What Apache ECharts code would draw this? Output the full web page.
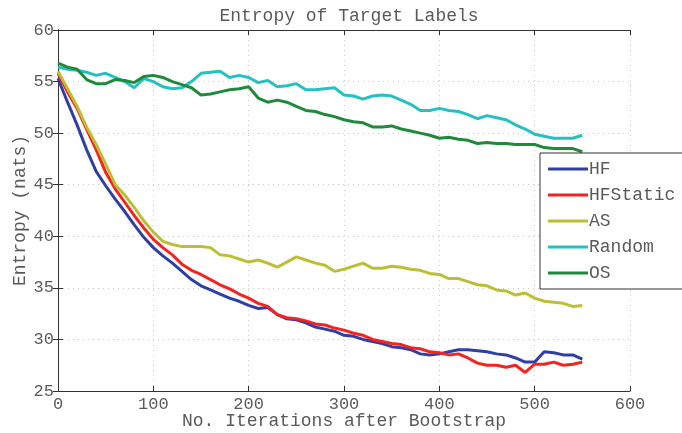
<!DOCTYPE html>
<html lang="en">
<head>
    <meta charset="UTF-8">
    <title>Entropy of Target Labels</title>
    <script src="https://cdn.jsdelivr.net/npm/echarts@6/dist/echarts.min.js"></script>
</head>
<body style="margin:0;background:#fff">
<div id="chart" style="width:682px;height:433px"></div>

<script type="text/javascript">
    // iterations after bootstrap (x)
    var iters = [0, 10, 20, 30, 40, 50, 60, 70, 80, 90, 100, 110, 120, 130, 140, 150, 160, 170, 180, 190,
        200, 210, 220, 230, 240, 250, 260, 270, 280, 290, 300, 310, 320, 330, 340, 350, 360, 370, 380, 390,
        400, 410, 420, 430, 440, 450, 460, 470, 480, 490, 500, 510, 520, 530, 540, 550];

    var hf = [55.3, 53.0, 50.8, 48.4, 46.3, 44.9, 43.6, 42.4, 41.1, 39.9, 38.9, 38.1, 37.4, 36.6, 35.8, 35.2, 34.8, 34.4, 34.0, 33.7,
        33.3, 33.0, 33.1, 32.4, 32.0, 31.9, 31.6, 31.2, 31.0, 30.8, 30.4, 30.3, 30.0, 29.8, 29.6, 29.3, 29.2, 29.0, 28.6, 28.5,
        28.6, 28.8, 29.0, 29.0, 28.9, 28.8, 28.6, 28.5, 28.2, 27.8, 27.8, 28.8, 28.7, 28.5, 28.5, 28.1];

    var hfStatic = [55.8, 54.0, 52.4, 50.4, 48.4, 46.2, 44.6, 43.3, 42.0, 40.8, 39.7, 38.9, 38.2, 37.3, 36.7, 36.3, 35.8, 35.3, 34.9, 34.4,
        34.0, 33.5, 33.2, 32.4, 32.1, 32.0, 31.8, 31.5, 31.4, 31.1, 30.9, 30.6, 30.4, 30.0, 29.8, 29.6, 29.5, 29.2, 29.1, 28.8,
        28.7, 28.5, 28.6, 28.2, 27.7, 27.5, 27.5, 27.3, 27.5, 26.8, 27.6, 27.6, 27.8, 27.5, 27.6, 27.8];

    var as = [56.0, 54.3, 52.6, 50.6, 48.9, 47.0, 45.0, 44.0, 42.8, 41.5, 40.4, 39.5, 39.2, 39.0, 39.0, 39.0, 38.9, 38.2, 38.1, 37.8,
        37.5, 37.7, 37.4, 37.0, 37.5, 38.0, 37.7, 37.4, 37.2, 36.6, 36.8, 37.1, 37.4, 36.9, 36.9, 37.1, 37.0, 36.8, 36.7, 36.4,
        36.3, 35.9, 35.9, 35.6, 35.3, 35.2, 34.8, 34.7, 34.3, 34.5, 34.0, 33.7, 33.6, 33.5, 33.2, 33.3];

    var random = [56.4, 56.2, 56.1, 55.9, 55.6, 55.8, 55.4, 55.0, 54.4, 55.3, 55.0, 54.5, 54.3, 54.4, 55.0, 55.8, 55.9, 56.0, 55.4, 55.6,
        55.4, 54.9, 55.1, 54.5, 54.6, 54.8, 54.2, 54.2, 54.3, 54.4, 53.7, 53.6, 53.3, 53.6, 53.7, 53.6, 53.2, 52.8, 52.2, 52.2,
        52.4, 52.2, 52.1, 51.8, 51.4, 51.7, 51.5, 51.3, 50.8, 50.4, 49.9, 49.7, 49.5, 49.5, 49.5, 49.8];

    var os = [56.8, 56.4, 56.2, 55.2, 54.8, 54.8, 55.2, 55.1, 54.9, 55.5, 55.6, 55.4, 55.0, 54.7, 54.4, 53.7, 53.8, 54.0, 54.2, 54.3,
        54.5, 53.4, 53.0, 53.2, 53.0, 52.6, 52.2, 52.1, 51.8, 51.6, 51.3, 51.1, 51.0, 50.6, 50.6, 50.7, 50.4, 50.2, 50.0, 49.8,
        49.5, 49.6, 49.4, 49.3, 49.0, 49.1, 49.0, 49.0, 48.9, 48.9, 48.9, 48.6, 48.5, 48.5, 48.5, 48.2];

    var names = ['HF', 'HFStatic', 'AS', 'Random', 'OS'];
    var colors = ['#2e3fa6', '#f5231f', '#bcbf34', '#27c0c2', '#1f8a3c'];
    var values = [hf, hfStatic, as, random, os];

    var FONT = '"Liberation Mono", "DejaVu Sans Mono", monospace';
    var TXT = '#5a5a5a';

    function pairs(ys) {
        return iters.map(function (x, i) { return [x, ys[i]]; });
    }

    var myChart = echarts.init(document.getElementById('chart'));

    var option = {
        animation: false,
        title: {
            text: 'Entropy of Target Labels',
            left: 344,
            textAlign: 'center',
            top: 2,
            textStyle: {fontFamily: FONT, fontSize: 18, fontWeight: 'normal', color: TXT}
        },
        grid: {left: 58, right: 52, top: 30, bottom: 42, outerBoundsMode: 'none'},
        legend: {
            orient: 'vertical',
            left: 540,
            top: 153,
            icon: 'rect',
            itemWidth: 40,
            itemHeight: 3,
            itemGap: 0,
            padding: [3, 30, 3, 8],
            backgroundColor: '#fff',
            borderColor: '#333',
            borderWidth: 1,
            textStyle: {fontFamily: FONT, fontSize: 18, color: TXT, lineHeight: 26, padding: [0, 0, 0, -4]},
            data: names
        },
        xAxis: [{
            type: 'value',
            min: 0, max: 600, interval: 100,
            name: 'No. Iterations after Bootstrap',
            nameLocation: 'middle',
            nameGap: 21,
            nameMoveOverlap: false,
            nameTextStyle: {fontFamily: FONT, fontSize: 18, color: TXT},
            axisLine: {lineStyle: {color: '#333', width: 1}},
            axisTick: {inside: true, length: 5, lineStyle: {color: '#333'}},
            axisLabel: {fontFamily: FONT, fontSize: 17, color: TXT, margin: 5},
            splitLine: {show: true, lineStyle: {color: '#c8c8c8', type: [1, 4]}}
        }, {
            type: 'value', position: 'top',
            min: 0, max: 600, interval: 100,
            axisLine: {lineStyle: {color: '#333', width: 1}},
            axisTick: {inside: true, length: 5, lineStyle: {color: '#333'}},
            axisLabel: {show: false},
            splitLine: {show: false}
        }],
        yAxis: [{
            type: 'value',
            min: 25, max: 60, interval: 5,
            name: 'Entropy (nats)',
            nameLocation: 'middle',
            nameGap: 29,
            nameMoveOverlap: false,
            nameTextStyle: {fontFamily: FONT, fontSize: 18, color: TXT},
            axisLine: {show: true, lineStyle: {color: '#333', width: 1}},
            axisTick: {show: true, inside: true, length: 5, lineStyle: {color: '#333'}},
            axisLabel: {fontFamily: FONT, fontSize: 17, color: TXT, margin: 4},
            splitLine: {show: true, lineStyle: {color: '#c8c8c8', type: [1, 4]}}
        }, {
            type: 'value', position: 'right',
            min: 25, max: 60, interval: 5,
            axisLine: {show: true, lineStyle: {color: '#333', width: 1}},
            axisTick: {show: true, inside: true, length: 5, lineStyle: {color: '#333'}},
            axisLabel: {show: false},
            splitLine: {show: false}
        }],
        series: names.map(function (n, i) {
            return {
                name: n,
                type: 'line',
                symbol: 'none',
                color: colors[i],
                lineStyle: {width: 3, color: colors[i]},
                data: pairs(values[i])
            };
        })
    };

    myChart.setOption(option);
</script>
</body>
</html>
